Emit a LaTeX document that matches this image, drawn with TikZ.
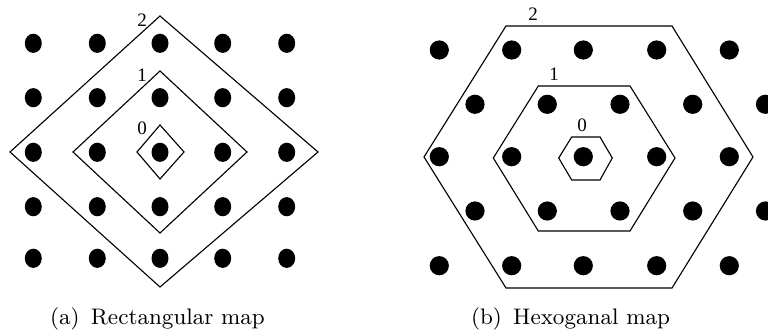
\documentclass[tikz,border=0pt]{standalone}
\usepackage{fontspec}
\newfontfamily\labfont{Liberation Serif}
\begin{document}
\begin{tikzpicture}[x=0.4pt,y=-0.4pt,
  ring/.style={draw=black,line width=0.45pt,line join=miter},
  lab/.style={font=\labfont\fontsize{7.6}{8}\selectfont,inner sep=0pt},
  captext/.style={font=\fontsize{9}{11}\selectfont,inner sep=0pt,anchor=base}]
\useasboundingbox (0,0) rectangle (768,331);
% left: rectangular lattice
\foreach \x in {33.3,97.3,160,222.7,286.7}
  \foreach \y in {43.3,97.7,152.3,206.7,258.3}
    \fill (\x,\y) ellipse [x radius=8.5, y radius=9.6];
\draw[ring] (10,152) -- (160,16) -- (318,152) -- (160,287) -- cycle;
\draw[ring] (73,152) -- (160,71) -- (247,152) -- (160,233) -- cycle;
\draw[ring] (137,152) -- (160,125) -- (184,152) -- (160,179) -- cycle;
\node[lab] (l2) at (142,20.5) {2};
\node[lab] (l1) at (142,75) {1};
\node[lab] (l0) at (142,128.5) {0};
% right: hexagonal lattice
\foreach \y in {50,156.7,265.7}
  \foreach \x in {439.3,511.7,583.3,656.7,729.3}
    \fill (\x,\y) circle [radius=9.6];
\foreach \y in {104.3,211}
  \foreach \x in {475,547.3,620,692.7,765.5}
    \fill (\x,\y) circle [radius=9.6];
\draw[ring] (424,157) -- (506,26) -- (672,26) -- (753,157) -- (672,288) -- (506,288) -- cycle;
\draw[ring] (493.3,158) -- (538.3,86) -- (630,86) -- (675,158) -- (630,231) -- (538.3,231) -- cycle;
\draw[ring] (558.7,158) -- (571.7,137) -- (600,137) -- (612.3,158) -- (600,180) -- (571.7,180) -- cycle;
\node[lab] (r2) at (533,14.5) {2};
\node[lab] (r1) at (554,74) {1};
\node[lab] (r0) at (582,125) {0};
% captions
\node[captext] (ca) at (157.5,325) {(a)\enspace Rectangular map};
\node[captext] (cb) at (570.5,325) {(b)\enspace Hexoganal map};
\end{tikzpicture}
\end{document}
